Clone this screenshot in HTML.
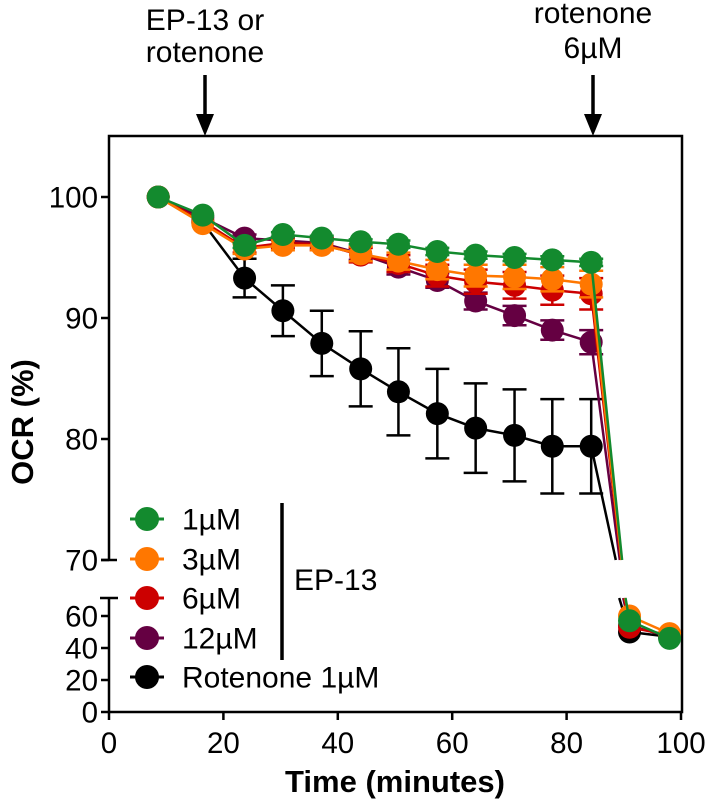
<!DOCTYPE html>
<html><head><meta charset="utf-8"><style>
body{margin:0;background:#fff;}
svg{display:block;font-family:"Liberation Sans",Arial,sans-serif;}
</style></head><body>
<svg id="chart" width="708" height="802" viewBox="0 0 708 802" xmlns="http://www.w3.org/2000/svg">
<g id="axes"></g>
<g id="series"></g>
<g id="legend"></g>
</svg>
<script>
const times = [8.6,16.4,23.7,30.4,37.2,44,50.6,57.4,64.1,70.9,77.5,84.3];
const timesLow = [91,98];
const seriesNames = ["Rotenone 1µM","12µM","6µM","3µM","1µM"];
const seriesColors = ["#000000","#650042","#cc0000","#ff7700","#138a2e"];
const valsBlack = [100,97.9,93.3,90.6,87.9,85.8,83.9,82.1,80.9,80.3,79.4,79.4];
const errBlack = [0,0,1.6,2.1,2.7,3.1,3.6,3.7,3.7,3.8,3.9,3.9];
const valsPurple = [100,98.3,96.6,96.4,96.2,95.3,94.2,93.1,91.4,90.2,89.0,88.0];
const errPurple = [0,0,0.3,0.3,0.4,0.5,0.6,0.6,0.7,0.8,0.8,1.0];
const valsRed = [100,98.0,95.8,96.2,96.1,95.2,94.5,93.5,93.0,92.7,92.3,92.0];
const errRed = [0,0,0.4,0.4,0.5,0.6,0.7,0.9,1.0,1.1,1.2,1.3];
const valsOrange = [100,97.8,95.7,96.0,96.0,95.3,94.7,94.0,93.5,93.4,93.2,92.8];
const errOrange = [0,0,0.4,0.4,0.4,0.6,0.7,0.8,0.9,1.0,1.0,1.1];
const valsGreen = [100,98.5,96.0,96.9,96.6,96.3,96.1,95.5,95.2,95.0,94.8,94.6];
const errGreen = [0,0,0.2,0.2,0.2,0.2,0.3,0.3,0.3,0.3,0.3,0.3];
const lowBlack = [50,47];
const lowPurple = [54,47];
const lowRed = [53,48];
const lowOrange = [60,49];
const lowGreen = [57,46];
const yTicksUpper = [100,90,80,70];
const yTicksLower = [60,40,20,0];
const xTicks = [0,20,40,60,80,100];

const NS="http://www.w3.org/2000/svg";
const X0=109,X1=681;
const xs=t=>X0+(X1-X0)*t/100;
const yU=v=>197+(100-v)*12.1;
const yL=v=>712-v*1.6;
function mk(tag,attrs,parent,text){const e=document.createElementNS(NS,tag);for(const k in attrs)e.setAttribute(k,attrs[k]);if(text!==undefined)e.textContent=text;parent.appendChild(e);return e;}

const axes=document.getElementById('axes');
let e;
e=mk('path',{d:`M${X0},560 L${X0},136 L682,136 L682,712 L${X0},712 L${X0},598`,fill:'none',stroke:'#000','stroke-width':2.5},axes);

e=mk('line',{x1:101,y1:560,x2:117,y2:560,stroke:'#000','stroke-width':2.5},axes);

e=mk('line',{x1:100,y1:598,x2:118,y2:598,stroke:'#000','stroke-width':2.5},axes);

yTicksUpper.forEach(v=>{
  const y=yU(v);
  const t=mk('line',{x1:X0-8,y1:y,x2:X0,y2:y,stroke:'#000','stroke-width':2.5},axes);
  
  const l=mk('text',{x:X0-11,y:y+10.5,'font-size':29.5,'text-anchor':'end'},axes,String(v));
  
});
yTicksLower.forEach(v=>{
  const y=yL(v);
  const t=mk('line',{x1:X0-8,y1:y,x2:X0,y2:y,stroke:'#000','stroke-width':2.5},axes);
  
  const l=mk('text',{x:X0-11,y:y+10.5,'font-size':29.5,'text-anchor':'end'},axes,String(v));
  
});
xTicks.forEach(v=>{
  const x=xs(v);
  const t=mk('line',{x1:x,y1:712,x2:x,y2:720,stroke:'#000','stroke-width':2.5},axes);
  
  const l=mk('text',{x:x,y:753,'font-size':29.5,'text-anchor':'middle'},axes,String(v));
  
});
e=mk('text',{x:395,y:792,'font-size':31,'font-weight':'bold','text-anchor':'middle'},axes,'Time (minutes)');

e=mk('text',{x:0,y:0,'font-size':31,'font-weight':'bold','text-anchor':'middle',transform:'translate(33,422) rotate(-90)'},axes,'OCR (%)');

function arrow(x,name){
  const g=mk('g',{},axes);
  
  mk('line',{x1:x,y1:75,x2:x,y2:120,stroke:'#000','stroke-width':3.5},g);
  mk('path',{d:`M${x-9},114 L${x+9},114 L${x},136 Z`,fill:'#000'},g);
}
arrow(205,'arrow-ep13');arrow(593,'arrow-rotenone-6um');
e=mk('text',{x:205,y:30,'font-size':30,'text-anchor':'middle'},axes,'EP-13 or');

e=mk('text',{x:205,y:62,'font-size':30,'text-anchor':'middle'},axes,'rotenone');

e=mk('text',{x:593,y:23,'font-size':30,'text-anchor':'middle'},axes,'rotenone');

e=mk('text',{x:593,y:58,'font-size':30,'text-anchor':'middle'},axes,'6µM');


const seriesVals=[valsBlack,valsPurple,valsRed,valsOrange,valsGreen];
const seriesErr=[errBlack,errPurple,errRed,errOrange,errGreen];
const seriesLow=[lowBlack,lowPurple,lowRed,lowOrange,lowGreen];
const dropT=[88.6,89.3,89.5,89.6,89.7];
const sg=document.getElementById('series');
seriesVals.forEach((vals,i)=>{
  const c=seriesColors[i];
  const g=mk('g',{},sg);
  
  
  let d=vals.map((v,j)=>(j?'L':'M')+xs(times[j])+','+yU(v)).join(' ');
  d+=` L${xs(dropT[i])},560`;
  const ln=mk('path',{d:d,fill:'none',stroke:c,'stroke-width':2.5},g);
  
  const low=seriesLow[i];
  let d2=`M${xs(dropT[i]+0.6)},598 `+low.map((v,j)=>'L'+xs(timesLow[j])+','+yL(v)).join(' ');
  const ln2=mk('path',{d:d2,fill:'none',stroke:c,'stroke-width':2.5},g);
  
  vals.forEach((v,j)=>{
    const er=seriesErr[i][j];
    if(er>0){
      const x=xs(times[j]);
      const eb=mk('path',{d:`M${x},${yU(v+er)} L${x},${yU(v-er)} M${x-12},${yU(v+er)} L${x+12},${yU(v+er)} M${x-12},${yU(v-er)} L${x+12},${yU(v-er)}`,stroke:c,'stroke-width':2.5,fill:'none'},g);
      
    }
  });
  vals.forEach((v,j)=>{
    const p=mk('circle',{cx:xs(times[j]),cy:yU(v),r:11.5,fill:c},g);
    
  });
  low.forEach((v,j)=>{
    const p=mk('circle',{cx:xs(timesLow[j]),cy:yL(v),r:11.5,fill:c},g);
    
  });
});

const lg=document.getElementById('legend');
const legendOrder=[4,3,2,1,0];
const legendY=[519,559,598,638,677];
legendOrder.forEach((si,k)=>{
  const y=legendY[k];
  const g=mk('g',{},lg);
  
  mk('line',{x1:130,y1:y,x2:164,y2:y,stroke:seriesColors[si],'stroke-width':3},g);
  mk('circle',{cx:147,cy:y,r:12,fill:seriesColors[si]},g);
  mk('text',{x:182,y:y+10.5,'font-size':30},g,seriesNames[si]);
});
e=mk('line',{x1:282,y1:503,x2:282,y2:660,stroke:'#000','stroke-width':3.5},lg);

e=mk('text',{x:294,y:590,'font-size':30},lg,'EP-13');

</script>
</body></html>
